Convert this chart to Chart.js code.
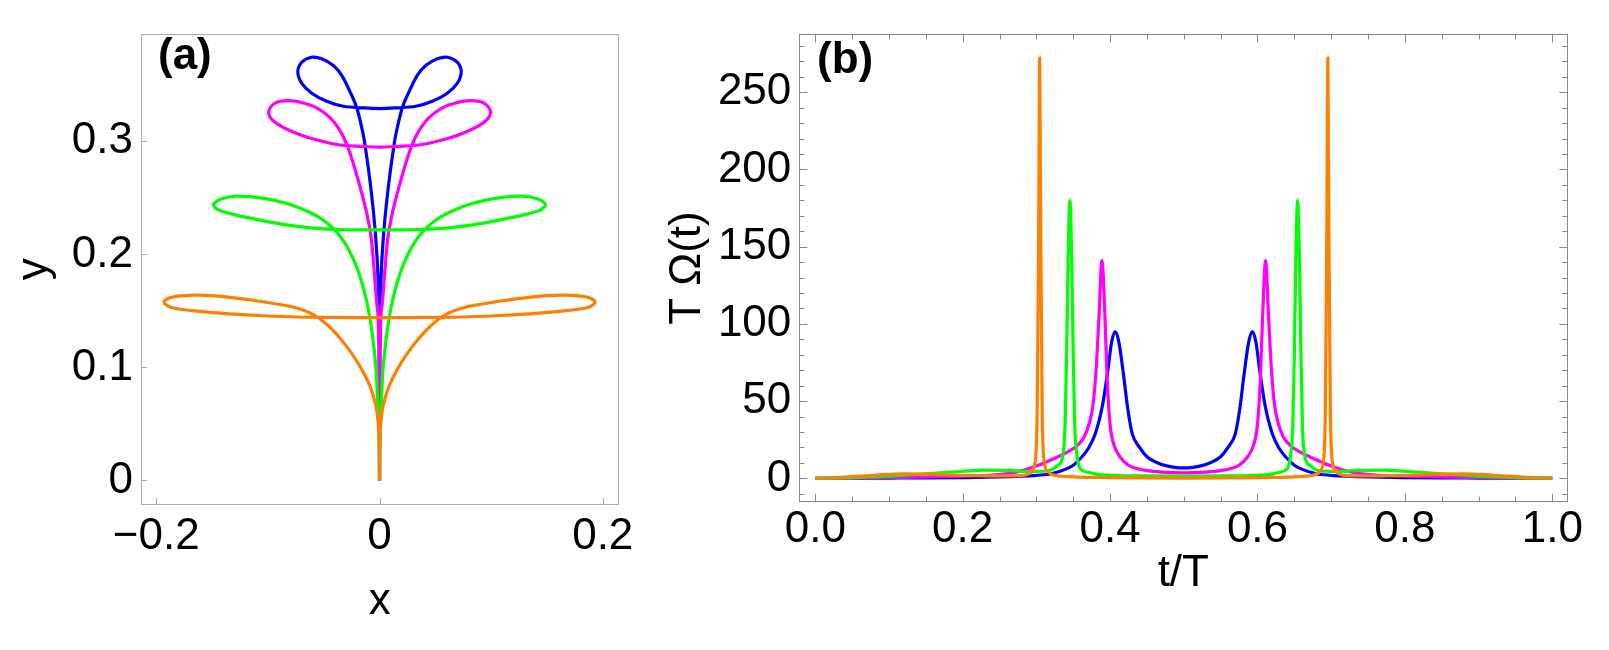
<!DOCTYPE html>
<html>
<head>
<meta charset="utf-8">
<script src="https://cdn.jsdelivr.net/npm/chart.js@4.4.0/dist/chart.umd.min.js"></script>
<style>
  html, body { margin: 0; padding: 0; background: #fff; }
  #wrap { position: relative; width: 1609px; height: 650px; }
  canvas { position: absolute; top: 0; }
  #chartA { left: 0; }
  #chartB { left: 640px; }
</style>
</head>
<body>
<div id="wrap">
  <canvas id="chartA" width="640" height="650"></canvas>
  <canvas id="chartB" width="969" height="650"></canvas>
</div>
<script>
// ---- panel (a): trajectories in the x-y plane ----
const blueX = [0, 0.0002, 0.0006, 0.0016, 0.0032, 0.0055, 0.0083, 0.0114, 0.0148, 0.0205, 0.0265, 0.034, 0.0414, 0.0518, 0.0607, 0.0696, 0.0732, 0.0696, 0.0607, 0.0473, 0.0325, 0.0146, 0,
  -0.0146, -0.0325, -0.0473, -0.0607, -0.0696, -0.0732, -0.0696, -0.0607, -0.0518, -0.0414, -0.034, -0.0265, -0.0205, -0.0148, -0.0114, -0.0083, -0.0055, -0.0032, -0.0016, -0.0006, -0.0002, 0];
const blueY = [0, 0.08, 0.15, 0.185, 0.212, 0.238, 0.263, 0.286, 0.307, 0.330, 0.344, 0.3585, 0.367, 0.373, 0.3744, 0.370, 0.3614, 0.3513, 0.3426, 0.3354, 0.331, 0.3296, 0.329,
  0.3296, 0.331, 0.3354, 0.3426, 0.3513, 0.3614, 0.370, 0.3744, 0.373, 0.367, 0.3585, 0.344, 0.330, 0.307, 0.286, 0.263, 0.238, 0.212, 0.185, 0.15, 0.08, 0];

const magentaX = [0, 0.0003, 0.0012, 0.0027, 0.005, 0.0075, 0.0116, 0.0176, 0.0235, 0.0295, 0.0354, 0.0444, 0.0563, 0.0682, 0.0816, 0.0935, 0.0994, 0.095, 0.080, 0.0593, 0.0384, 0.0146, 0,
  -0.0146, -0.0384, -0.0593, -0.080, -0.095, -0.0994, -0.0935, -0.0816, -0.0682, -0.0563, -0.0444, -0.0354, -0.0295, -0.0235, -0.0176, -0.0116, -0.0075, -0.005, -0.0027, -0.0012, -0.0003, 0];
const magentaY = [0, 0.1, 0.145, 0.159, 0.188, 0.215, 0.237, 0.2602, 0.2804, 0.2977, 0.3094, 0.3209, 0.3296, 0.3339, 0.336, 0.3339, 0.3261, 0.318, 0.3094, 0.302, 0.2972, 0.2955, 0.2949,
  0.2955, 0.2972, 0.302, 0.3094, 0.318, 0.3261, 0.3339, 0.336, 0.3339, 0.3296, 0.3209, 0.3094, 0.2977, 0.2804, 0.2602, 0.237, 0.215, 0.188, 0.159, 0.145, 0.1, 0];

const greenX = [0, 0.0004, 0.0018, 0.0033, 0.0066, 0.0116, 0.018, 0.025, 0.032, 0.040, 0.050, 0.0622, 0.083, 0.1039, 0.1277, 0.1426, 0.1486, 0.1426, 0.1188, 0.089, 0.0593, 0.0295, 0,
  -0.0295, -0.0593, -0.089, -0.1188, -0.1426, -0.1486, -0.1426, -0.1277, -0.1039, -0.083, -0.0622, -0.050, -0.040, -0.032, -0.025, -0.018, -0.0116, -0.0066, -0.0033, -0.0018, -0.0004, 0];
const greenY = [0, 0.04, 0.072, 0.101, 0.130, 0.159, 0.182, 0.199, 0.2115, 0.2215, 0.230, 0.237, 0.245, 0.2495, 0.2515, 0.2487, 0.2437, 0.2385, 0.2327, 0.227, 0.2232, 0.2218, 0.2217,
  0.2218, 0.2232, 0.227, 0.2327, 0.2385, 0.2437, 0.2487, 0.2515, 0.2495, 0.245, 0.237, 0.230, 0.2215, 0.2115, 0.199, 0.182, 0.159, 0.130, 0.101, 0.072, 0.04, 0];

const orangeX = [0, 0.0003, 0.0013, 0.0033, 0.0087, 0.0176, 0.0295, 0.040, 0.049, 0.058, 0.068, 0.080, 0.1039, 0.1337, 0.1634, 0.1842, 0.1932, 0.1872, 0.1634, 0.1337, 0.1039, 0.0741, 0.0444, 0,
  -0.0444, -0.0741, -0.1039, -0.1337, -0.1634, -0.1872, -0.1932, -0.1842, -0.1634, -0.1337, -0.1039, -0.080, -0.068, -0.058, -0.049, -0.040, -0.0295, -0.0176, -0.0087, -0.0033, -0.0013, -0.0003, 0];
const orangeY = [0, 0.035, 0.052, 0.0665, 0.0839, 0.1012, 0.1186, 0.131, 0.1395, 0.146, 0.1505, 0.154, 0.158, 0.162, 0.1639, 0.1625, 0.1581, 0.1532, 0.1498, 0.1474, 0.1457, 0.1446, 0.1443, 0.144,
  0.1443, 0.1446, 0.1457, 0.1474, 0.1498, 0.1532, 0.1581, 0.1625, 0.1639, 0.162, 0.158, 0.154, 0.1505, 0.146, 0.1395, 0.131, 0.1186, 0.1012, 0.0839, 0.0665, 0.052, 0.035, 0];

const xTicksA = [-0.2, 0, 0.2];
const xLabelsA = ['\u22120.2', '0', '0.2'];
const yTicksA = [0, 0.1, 0.2, 0.3];
const yLabelsA = ['0', '0.1', '0.2', '0.3'];

// ---- panel (b): T*Omega(t) against t/T ----
const blueT = [0, 0.05, 0.1, 0.15, 0.2, 0.25, 0.28, 0.3, 0.32, 0.34, 0.35, 0.36, 0.37, 0.38, 0.39, 0.397, 0.402, 0.407, 0.412, 0.418, 0.424, 0.43, 0.44, 0.45, 0.46, 0.47, 0.48, 0.49, 0.5,
  0.51, 0.52, 0.53, 0.54, 0.55, 0.56, 0.57, 0.576, 0.582, 0.588, 0.593, 0.598, 0.603, 0.61, 0.62, 0.63, 0.64, 0.65, 0.66, 0.68, 0.7, 0.72, 0.75, 0.8, 0.85, 0.9, 0.95, 1];
const blueV = [0, 0.1, 0.2, 0.3, 0.5, 0.9, 1.4, 2, 3, 6, 8.5, 13, 19, 29, 48, 70, 88, 95, 88, 68, 45, 29, 20, 14, 11, 9, 7.8, 7, 6.8,
  7, 7.8, 9, 11, 14, 20, 29, 45, 68, 88, 95, 88, 70, 48, 29, 19, 13, 8.5, 6, 3, 2, 1.4, 0.9, 0.5, 0.3, 0.2, 0.1, 0];

const magentaT = [0, 0.05, 0.1, 0.15, 0.2, 0.24, 0.27, 0.3, 0.32, 0.34, 0.355, 0.365, 0.372, 0.377, 0.381, 0.385, 0.389, 0.393, 0.396, 0.4, 0.405, 0.414, 0.425, 0.435, 0.45, 0.47, 0.5,
  0.53, 0.55, 0.565, 0.575, 0.586, 0.595, 0.6, 0.604, 0.607, 0.611, 0.615, 0.619, 0.623, 0.628, 0.635, 0.645, 0.66, 0.68, 0.7, 0.73, 0.76, 0.8, 0.85, 0.9, 0.95, 1];
const magentaV = [0, 0.2, 0.5, 0.9, 1.5, 2.2, 3.8, 8, 12, 16.5, 21, 27, 36, 48, 70, 105, 141, 105, 65, 35, 22, 13.6, 8.5, 6.5, 5, 4, 3.5,
  4, 5, 6.5, 8.5, 13.6, 22, 35, 65, 105, 141, 105, 70, 48, 36, 27, 21, 16.5, 12, 8, 3.8, 2.2, 1.5, 0.9, 0.5, 0.2, 0];

const greenT = [0, 0.05, 0.1, 0.15, 0.2, 0.23, 0.26, 0.29, 0.31, 0.32, 0.328, 0.336, 0.339, 0.341, 0.343, 0.3455, 0.348, 0.35, 0.352, 0.355, 0.36, 0.37, 0.38, 0.4, 0.45, 0.5,
  0.55, 0.6, 0.62, 0.63, 0.64, 0.645, 0.648, 0.65, 0.652, 0.6545, 0.657, 0.659, 0.661, 0.664, 0.672, 0.68, 0.69, 0.71, 0.74, 0.77, 0.8, 0.85, 0.9, 0.95, 1];
const greenV = [0, 0.5, 1.5, 3, 4.6, 5.3, 5.2, 4.5, 4.6, 5.5, 8, 15, 35, 80, 140, 180, 140, 80, 35, 15, 6, 4, 2.8, 2, 1.6, 1.5,
  1.6, 2, 2.8, 4, 6, 15, 35, 80, 140, 180, 140, 80, 35, 15, 8, 5.5, 4.6, 4.5, 5.2, 5.3, 4.6, 3, 1.5, 0.5, 0];

const orangeT = [0, 0.04, 0.08, 0.12, 0.16, 0.2, 0.24, 0.27, 0.285, 0.293, 0.298, 0.301, 0.303, 0.3045, 0.306, 0.308, 0.311, 0.316, 0.325, 0.35, 0.4, 0.5,
  0.6, 0.65, 0.675, 0.684, 0.689, 0.692, 0.694, 0.6955, 0.697, 0.699, 0.702, 0.707, 0.715, 0.73, 0.76, 0.8, 0.84, 0.88, 0.92, 0.96, 1];
const orangeV = [0, 0.8, 2, 3, 2.6, 2, 1.6, 1.6, 2.2, 4, 10, 40, 150, 272, 150, 40, 10, 4, 2, 1, 0.5, 0.2,
  0.5, 1, 2, 4, 10, 40, 150, 272, 150, 40, 10, 4, 2.2, 1.6, 1.6, 2, 2.6, 3, 2, 0.8, 0];

const xTicksB = [0, 0.2, 0.4, 0.6, 0.8, 1.0];
const xLabelsB = ['0.0', '0.2', '0.4', '0.6', '0.8', '1.0'];
const yTicksB = [0, 50, 100, 150, 200, 250];
const yLabelsB = ['0', '50', '100', '150', '200', '250'];

const COLORS = { blue: '#0000ff', magenta: '#ff00ff', green: '#00ff00', orange: '#ff8000' };

Chart.defaults.font.family = '"Liberation Sans", Arial, sans-serif';
Chart.defaults.color = '#000';
Chart.defaults.animation = false;

const toPoints = (xs, ys) => xs.map((x, i) => ({ x: x, y: ys[i] }));

function stepList(from, to, step) {
  const out = [];
  for (let v = from; v <= to + step / 2; v += step) out.push(Math.round(v / step) * step);
  return out;
}

// frame, inward ticks and the panel letter
const framePlugin = {
  id: 'frameTicks',
  afterDatasetsDraw(chart, args, opts) {
    const { ctx, chartArea: a, scales: { x, y } } = chart;
    const snap = p => Math.round(p) + 0.5;
    ctx.save();
    ctx.strokeStyle = opts.color;
    ctx.lineWidth = 1;
    ctx.beginPath();
    const drawX = (vals, len) => vals.forEach(v => {
      const px = snap(x.getPixelForValue(v));
      ctx.moveTo(px, a.bottom); ctx.lineTo(px, a.bottom - len);
      if (opts.mirror) { ctx.moveTo(px, a.top); ctx.lineTo(px, a.top + len); }
    });
    const drawY = (vals, len) => vals.forEach(v => {
      const py = snap(y.getPixelForValue(v));
      ctx.moveTo(a.left, py); ctx.lineTo(a.left + len, py);
      if (opts.mirror) { ctx.moveTo(a.right, py); ctx.lineTo(a.right - len, py); }
    });
    drawX(opts.xMinor, opts.minorLen);
    drawY(opts.yMinor, opts.minorLen);
    drawX(opts.xMajor, opts.majorLen);
    drawY(opts.yMajor, opts.majorLen);
    ctx.stroke();
    ctx.strokeRect(snap(a.left), snap(a.top), Math.round(a.right - a.left), Math.round(a.bottom - a.top));
    ctx.fillStyle = '#000';
    ctx.font = 'bold 44px "Liberation Sans", Arial, sans-serif';
    ctx.textBaseline = 'alphabetic';
    ctx.fillText(opts.label, opts.labelX, opts.labelY);
    ctx.restore();
  }
};

function axisTicks(values, labels, padding) {
  return {
    afterBuildTicks: s => { s.ticks = values.map(v => ({ value: v })); },
    ticks: {
      autoSkip: false, maxRotation: 0, padding: padding,
      font: { size: 44 }, color: '#000',
      callback: (v, i) => labels[i]
    }
  };
}

function lineSet(label, color, xs, ys, extra) {
  return Object.assign({
    label: label,
    data: toPoints(xs, ys),
    showLine: true,
    borderColor: color,
    backgroundColor: color,
    borderWidth: 3.2,
    pointRadius: 0,
    fill: false
  }, extra);
}

// panel (a)
new Chart(document.getElementById('chartA'), {
  type: 'scatter',
  data: {
    datasets: [
      lineSet('orange', COLORS.orange, orangeX, orangeY, { tension: 0.35 }),
      lineSet('green', COLORS.green, greenX, greenY, { tension: 0.35 }),
      lineSet('magenta', COLORS.magenta, magentaX, magentaY, { tension: 0.35 }),
      lineSet('blue', COLORS.blue, blueX, blueY, { tension: 0.35 })
    ]
  },
  options: {
    responsive: false,
    devicePixelRatio: 1,
    layout: { padding: { top: 25, right: 20, left: 0, bottom: 0 } },
    plugins: {
      legend: { display: false },
      tooltip: { enabled: false },
      frameTicks: {
        color: '#aaaaaa', mirror: false, majorLen: 6, minorLen: 0,
        xMajor: xTicksA, yMajor: yTicksA, xMinor: [], yMinor: [],
        label: '(a)', labelX: 158, labelY: 69
      }
    },
    scales: {
      x: Object.assign({
        type: 'linear', min: -0.2137, max: 0.214,
        grid: { display: false, drawTicks: false }, border: { display: false },
        title: { display: true, text: 'x', font: { size: 44 }, color: '#000', padding: { top: 0, bottom: 22 } },
        afterFit: s => { s.height = 146; }
      }, axisTicks(xTicksA, xLabelsA, 6)),
      y: Object.assign({
        type: 'linear', min: -0.0208, max: 0.3946,
        grid: { display: false, drawTicks: false }, border: { display: false },
        title: { display: true, text: 'y', font: { size: 44 }, color: '#000', padding: { top: 8, bottom: 0 } },
        afterFit: s => { s.width = 141; }
      }, axisTicks(yTicksA, yLabelsA, 8))
    }
  },
  plugins: [framePlugin]
});

// panel (b)
new Chart(document.getElementById('chartB'), {
  type: 'scatter',
  data: {
    datasets: [
      lineSet('orange', COLORS.orange, orangeT, orangeV, { cubicInterpolationMode: 'monotone' }),
      lineSet('green', COLORS.green, greenT, greenV, { cubicInterpolationMode: 'monotone' }),
      lineSet('magenta', COLORS.magenta, magentaT, magentaV, { cubicInterpolationMode: 'monotone' }),
      lineSet('blue', COLORS.blue, blueT, blueV, { cubicInterpolationMode: 'monotone' })
    ]
  },
  options: {
    responsive: false,
    devicePixelRatio: 1,
    layout: { padding: { top: 27.7, right: 41.7, left: 0, bottom: 0 } },
    plugins: {
      legend: { display: false },
      tooltip: { enabled: false },
      frameTicks: {
        color: '#888888', mirror: true, majorLen: 8, minorLen: 5,
        xMajor: xTicksB, yMajor: yTicksB,
        xMinor: stepList(0, 1, 0.05), yMinor: stepList(-10, 280, 10),
        label: '(b)', labelX: 177, labelY: 73
      }
    },
    scales: {
      x: Object.assign({
        type: 'linear', min: -0.0217, max: 1.0204,
        grid: { display: false, drawTicks: false }, border: { display: false },
        title: { display: true, text: 't/T', font: { size: 44 }, color: '#000', padding: { top: 0, bottom: 50 } },
        afterFit: s => { s.height = 148.3; }
      }, axisTicks(xTicksB, xLabelsB, 2)),
      y: Object.assign({
        type: 'linear', min: -15.1, max: 287.4,
        grid: { display: false, drawTicks: false }, border: { display: false },
        title: { display: true, text: 'T \u03A9(t)', font: { size: 44 }, color: '#000', padding: { top: 21, bottom: 0 } },
        afterFit: s => { s.width = 159.3; }
      }, axisTicks(yTicksB, yLabelsB, 8))
    }
  },
  plugins: [framePlugin]
});
</script>
</body>
</html>
